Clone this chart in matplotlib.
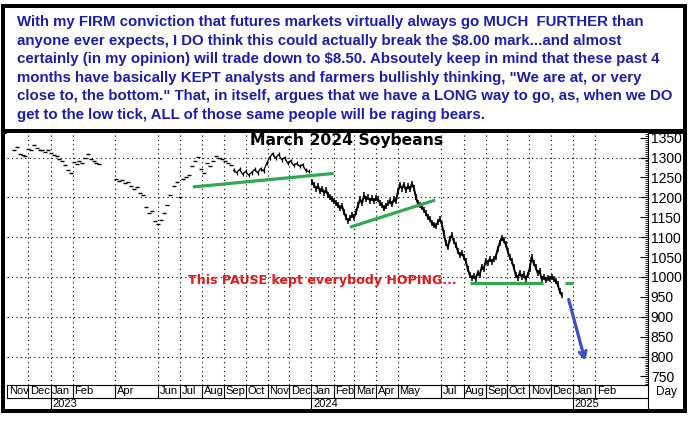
import numpy as np
import pandas as pd
import matplotlib
matplotlib.use('Agg')
import matplotlib.pyplot as plt
import matplotlib.dates as mdates
from matplotlib import font_manager
from matplotlib.ticker import MultipleLocator
from matplotlib.patches import Rectangle

plt.rcParams['font.family'] = ['Liberation Sans', 'DejaVu Sans']

# ---- data (cents / bushel) ----
# thin trading, drawn as dashes
early_span = ('2022-11-11', '2023-03-10')
early_vals = [1318, 1327, 1310, 1306, 1304, 1322, 1318, 1332, 1324, 1320, 1318,
              1314, 1320, 1312, 1306, 1303, 1297, 1290, 1280, 1268, 1262, 1288,
              1284, 1290, 1286, 1300, 1310, 1296, 1292, 1286, 1283]
spring_span = ('2023-04-03', '2023-09-10')
spring_vals = [1245, 1240, 1244, 1236, 1238, 1228, 1222, 1226, 1212, 1205,
               1175, 1160, 1165, 1140, 1132, 1142, 1160, 1180, 1205, 1228,
               1238, 1200, 1246, 1250, 1255, 1278, 1292, 1302, 1270, 1262,
               1285, 1278, 1290, 1305, 1300, 1296, 1290, 1285, 1280]
# denser trading
fall_span = ('2023-09-14', '2023-12-28')
fall_vals = [1268, 1262, 1270, 1258, 1265, 1256, 1262, 1270, 1262, 1272, 1266,
             1285, 1300, 1310, 1298, 1308, 1295, 1300, 1286, 1292, 1280, 1285,
             1278, 1282, 1268, 1265]
y2024_span = ('2024-01-02', '2024-12-16')
y2024_vals = [1238, 1230, 1222, 1228, 1215, 1222, 1210, 1218, 1205, 1200,
              1195, 1190, 1185, 1180, 1172, 1178, 1162, 1150, 1140, 1148,
              1155, 1150, 1162, 1180, 1195, 1185, 1205, 1195, 1200, 1192,
              1198, 1190, 1198, 1195, 1185, 1180, 1172, 1178, 1185, 1190,
              1182, 1195, 1190, 1215, 1230, 1222, 1232, 1218, 1228, 1220,
              1234, 1224, 1200, 1185, 1180, 1175, 1168, 1160, 1150, 1145,
              1135, 1130, 1128, 1138, 1145, 1132, 1110, 1085, 1075, 1095,
              1105, 1090, 1080, 1065, 1055, 1060, 1050, 1040, 1020, 1005,
              998, 1002, 995, 1010, 1005, 1025, 1020, 1040, 1035, 1045,
              1038, 1045, 1050, 1070, 1085, 1098, 1092, 1082, 1065, 1050,
              1040, 1025, 1005, 998, 1010, 1000, 1008, 995, 1005, 1020,
              1050, 1035, 1025, 1010, 1015, 995, 1000, 992, 998, 995,
              1000, 995, 990, 982, 965, 955]

# green trend lines and the blue projection arrow
trend_lines = [(('2023-07-19', '2024-02-01'), (1226, 1260)),
               (('2024-02-24', '2024-06-22'), (1125, 1193)),
               (('2024-08-10', '2024-11-20'), (985, 985)),
               (('2024-12-21', '2025-01-01'), (985, 985))]
arrow_from = ('2024-12-25', 950)
arrow_to = ('2025-01-19', 783)

month_starts = ['2022-11-01', '2022-12-01', '2023-01-01', '2023-02-01', '2023-04-01',
                '2023-06-01', '2023-07-01', '2023-08-01', '2023-09-01', '2023-10-01',
                '2023-11-01', '2023-12-01', '2024-01-01', '2024-02-01', '2024-03-01',
                '2024-04-01', '2024-05-01', '2024-07-01', '2024-08-01', '2024-09-01',
                '2024-10-01', '2024-11-01', '2024-12-01', '2025-01-01', '2025-02-01']
month_labels = ['Nov', 'Dec', 'Jan', 'Feb', 'Apr', 'Jun', 'Jul', 'Aug', 'Sep', 'Oct',
                'Nov', 'Dec', 'Jan', 'Feb', 'Mar', 'Apr', 'May', 'Jul', 'Aug', 'Sep',
                'Oct', 'Nov', 'Dec', 'Jan', 'Feb']
year_starts = ['2023-01-01', '2024-01-01', '2025-01-01']
year_labels = ['2023', '2024', '2025']
grid_levels = [800, 900, 1000, 1100, 1200, 1300]

note_lines = [
    'With my FIRM conviction that futures markets virtually always go MUCH  FURTHER than',
    'anyone ever expects, I DO think this could actually break the $8.00 mark...and almost',
    'certainly (in my opinion) will trade down to $8.50. Absoutely keep in mind that these past 4',
    'months have basically KEPT analysts and farmers bullishly thinking, "We are at, or very',
    'close to, the bottom." That, in itself, argues that we have a LONG way to go, as, when we DO',
    'get to the low tick, ALL of those same people will be raging bears.',
]


def dnum(s):
    return mdates.date2num(pd.to_datetime(s))


def span_dates(span, n):
    return mdates.date2num(pd.date_range(span[0], span[1], periods=n))


avail = {f.name for f in font_manager.fontManager.ttflist}
narrow = ['Liberation Sans Narrow'] if 'Liberation Sans Narrow' in avail else []
body_font = narrow + ['Liberation Sans', 'DejaVu Sans']

W, H = 693, 421
fig = plt.figure(figsize=(W / 100, H / 100), dpi=100, facecolor='white')
bg = fig.add_axes([0, 0, 1, 1])
bg.set_xlim(0, W)
bg.set_ylim(H, 0)
bg.axis('off')

ax = fig.add_axes([7 / W, (H - 385) / H, (648 - 7) / W, (385 - 133) / H])
renderer = fig.canvas.get_renderer()


def fit_width(t, px):
    w = t.get_window_extent(renderer).width
    t.set_fontsize(t.get_fontsize() * px / w)


# frame
bg.add_patch(Rectangle((3, 5.5), 682, 405.5, fill=False, lw=2.9, ec='black'))
bg.plot([3, 685], [130.5, 130.5], color='black', lw=3.6, solid_capstyle='butt')
bg.plot([648, 648], [385, 411], color='black', lw=0.8)
bg.text(666, 392, 'Day', ha='center', va='center', fontsize=8.5)

# commentary box
blue = '#1c1cae'
texts = []
for i, line in enumerate(note_lines):
    t = bg.text(17, 22 + 18.6 * i, line, color=blue, fontweight='bold',
                family=body_font, fontsize=12, ha='left', va='center')
    texts.append(t)
w0 = texts[0].get_window_extent(renderer).width
for t in texts:
    t.set_fontsize(12 * 627 / w0)

# price series
ax.plot(span_dates(early_span, len(early_vals)), early_vals, ls='none',
        marker='_', ms=3.5, mew=1.0, color='black')
ax.plot(span_dates(spring_span, len(spring_vals)), spring_vals, ls='none',
        marker='_', ms=3.5, mew=1.0, color='black')
ax.plot(span_dates(fall_span, len(fall_vals)), fall_vals, color='black', lw=0.9,
        marker='|', ms=3, mew=0.9)
ax.plot(span_dates(y2024_span, len(y2024_vals)), y2024_vals, color='black', lw=1.4,
        marker='|', ms=4, mew=1.1)

for (d, v) in trend_lines:
    ax.plot([dnum(d[0]), dnum(d[1])], v, color='#33a852', lw=2.3,
            solid_capstyle='butt', zorder=4)

ax.annotate('', xy=(dnum(arrow_to[0]), arrow_to[1]),
            xytext=(dnum(arrow_from[0]), arrow_from[1]),
            arrowprops=dict(arrowstyle='->,head_length=0.45,head_width=0.25',
                            color='#3e4dc2', lw=2.3), zorder=5)

# grid
month_nums = [dnum(m) for m in month_starts]
ax.hlines(grid_levels, dnum('2022-11-01'), dnum('2025-04-16'), colors='black',
          linestyles=(0, (1, 3)), lw=0.8, zorder=1)
for m in month_nums[1:]:
    ax.axvline(m, color='black', ls=(0, (1, 3)), lw=0.8, zorder=1)

ax.set_xlim(dnum('2022-11-01'), dnum('2025-04-16'))
ax.set_ylim(728.5, 1361.6)
ax.yaxis.set_major_locator(MultipleLocator(50))
ax.yaxis.set_minor_locator(MultipleLocator(5))
ax.tick_params(axis='x', which='both', bottom=False, labelbottom=False)
ax.tick_params(axis='y', which='both', left=False, labelleft=False, right=True,
               labelright=True, direction='in', pad=2)
ax.tick_params(axis='y', which='major', length=6, width=0.8, labelsize=10)
ax.tick_params(axis='y', which='minor', length=2.5, width=0.6)
for s in ('top', 'left'):
    ax.spines[s].set_visible(False)
for s in ('bottom', 'right'):
    ax.spines[s].set_linewidth(0.8)

# date rows under the plot
row1 = (398 - 385) / 252
row2 = (410 - 385) / 252
xt = ax.get_xaxis_transform()
for m, lab in zip(month_nums, month_labels):
    ax.plot([m, m], [-row1, 0], transform=xt, clip_on=False, color='black', lw=0.8)
    ax.annotate(lab, xy=(m, -row1 / 2), xycoords=xt, xytext=(1.2, 0),
                textcoords='offset points', ha='left', va='center', fontsize=8,
                annotation_clip=False)
for y, lab in zip(year_starts, year_labels):
    yn = dnum(y)
    ax.plot([yn, yn], [-row2, -row1], transform=xt, clip_on=False, color='black', lw=0.8)
    ax.annotate(lab, xy=(yn, -(row1 + row2) / 2), xycoords=xt, xytext=(1.2, 0),
                textcoords='offset points', ha='left', va='center', fontsize=8,
                annotation_clip=False)
ax.plot([0, 1], [-row1, -row1], transform=ax.transAxes, clip_on=False,
        color='black', lw=0.8)

# titles
title = ax.text(0.5296, 0.972, 'March 2024 Soybeans', transform=ax.transAxes,
                ha='center', va='center', fontweight='bold', fontsize=12,
                family=['DejaVu Sans'], color='black')
fit_width(title, 193)
note = ax.text(0.2824, 0.4127, 'This PAUSE kept everybody HOPING...',
               transform=ax.transAxes, ha='left', va='center', fontweight='bold',
               family=['DejaVu Sans'], fontsize=10, color='#e01b1b')
fit_width(note, 270)

fig.savefig('out.png', dpi=100, facecolor='white')
